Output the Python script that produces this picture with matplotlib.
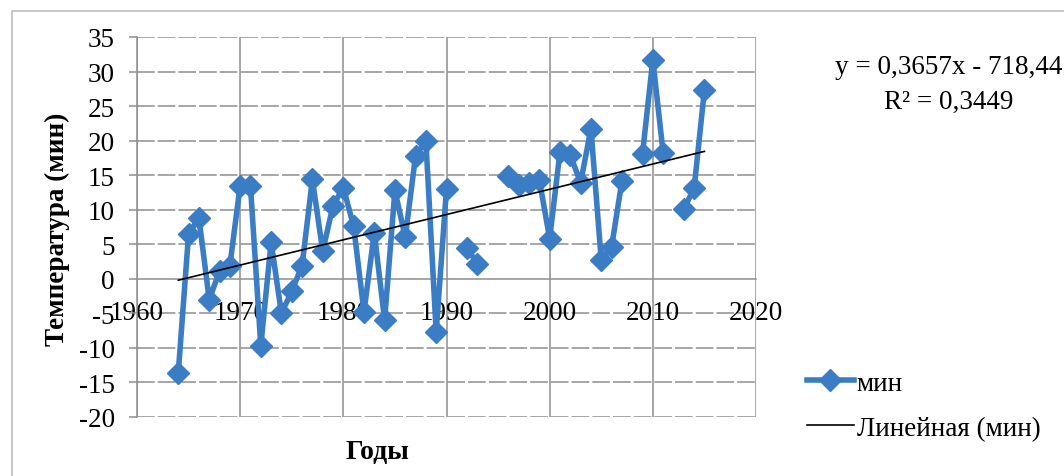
import numpy as np
import matplotlib

matplotlib.use("Agg")
import matplotlib.pyplot as plt
from matplotlib.patches import Rectangle

# minimum temperatures by year (NaN = no data, line breaks there)
years = list(range(1964, 2016))
t_min = [
    -13.6, 6.5, 8.8, -3.0, 1.1, 1.9, 13.5, 13.4, -9.7, 5.3,
    -5.0, -1.8, 1.9, 14.4, 4.0, 10.6, 13.2, 7.6, -4.8, 6.7,
    -6.0, 12.8, 6.0, 17.8, 20.0, -7.7, 13.0, np.nan, 4.4, 2.2,
    np.nan, np.nan, 14.9, 13.6, 13.8, 14.3, 5.8, 18.4, 17.9, 13.9,
    21.7, 2.7, 4.6, 14.1, np.nan, 18.1, 31.7, 18.2, np.nan, 10.1,
    13.1, 27.3,
]
trend_slope = 0.3657
trend_intercept = -718.44
r_squared = "0,3449"

x_ticks = [1960, 1970, 1980, 1990, 2000, 2010, 2020]
y_ticks = list(range(-20, 40, 5))

BLUE = "#3b7dc4"
GRID = "#8e8e8e"
FS = 19.5

plt.rcParams["font.family"] = ["Liberation Serif", "DejaVu Serif"]
plt.rcParams["lines.scale_dashes"] = False

fig = plt.figure(figsize=(10.64, 4.77), dpi=100)
ax = fig.add_axes([137 / 1064, 59 / 477, 619 / 1064, 380 / 477])

# outer chart frame (only left and top edges are inside the picture)
fig.patches.append(Rectangle((12 / 1064, -0.1), 1.2, 1.1 - 12 / 477,
                             transform=fig.transFigure, fill=False,
                             edgecolor="#bdbdbd", linewidth=1.2, clip_on=False))

ax.set_xlim(1960, 2020)
ax.set_ylim(-20, 35)
ax.set_xticks(x_ticks)
ax.set_yticks(y_ticks)

for y in y_ticks:
    if y == 0:
        continue
    ax.axhline(y, color=GRID, linewidth=1.1, linestyle=(0, (12.7, 2.2)), zorder=0)
for x in x_ticks:
    ax.axvline(x, color=GRID, linewidth=1.1, zorder=0)

for side in ("top", "right"):
    ax.spines[side].set_visible(False)
ax.spines["left"].set_color(GRID)
ax.spines["left"].set_linewidth(1.1)
ax.spines["bottom"].set_position(("data", 0))
ax.spines["bottom"].set_color(GRID)
ax.spines["bottom"].set_linewidth(1.1)

ax.tick_params(axis="y", direction="out", length=6, width=1.1, color=GRID,
               pad=10, labelsize=FS)
ax.tick_params(axis="x", length=0, pad=15, labelsize=FS)
ax.set_yticklabels([str(v) for v in y_ticks])

trend_x = np.array([years[0], years[-1]])
trend_y = trend_slope * trend_x + trend_intercept

ax.plot(years, t_min, color=BLUE, linewidth=4, marker="D", markersize=11,
        label="мин", zorder=3)
ax.plot(trend_x, trend_y, color="black", linewidth=1.2,
        label="Линейная (мин)", zorder=4)

ax.set_ylabel("Температура (мин)", fontsize=FS, fontweight="bold")
ax.yaxis.label.set_va("center")
ax.yaxis.set_label_coords(-0.129, 0.497)
ax.set_xlabel("Годы", fontsize=FS + 0.5, fontweight="bold")
ax.xaxis.label.set_va("center")
ax.xaxis.set_label_coords(0.388, -0.09)

fig.text(949 / 1064, 1 - 68 / 477, "y = 0,3657x - 718,44", ha="center",
         va="center", fontsize=FS)
fig.text(949 / 1064, 1 - 102 / 477, "R² = " + r_squared, ha="center",
         va="center", fontsize=FS)

fig.legend(loc="upper left", bbox_to_anchor=(793 / 1064, 1 - 358 / 477),
           frameon=False, fontsize=FS, handlelength=1.75, handletextpad=0.1,
           labelspacing=0.75, borderpad=0)

fig.savefig("out.png", dpi=100)
